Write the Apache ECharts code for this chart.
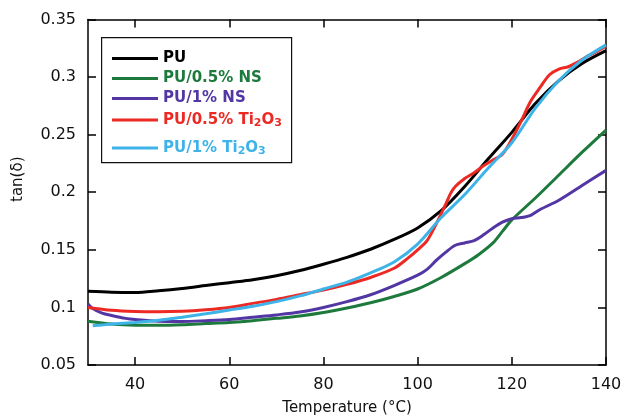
<!DOCTYPE html>
<html><head><meta charset="utf-8">
<script src="https://cdn.jsdelivr.net/npm/echarts@6/dist/echarts.min.js"></script>
<style>html,body{margin:0;padding:0;background:#fff}#c{width:624px;height:417px}</style>
</head><body><div id="c"></div>
<script>
const xTicks = [40,60,80,100,120,140];
const seriesNames = ['PU','PU/0.5% NS','PU/1% NS','PU/0.5% Ti2O3','PU/1% Ti2O3'];
const PU_T = [30,35,40,45,50,55,60,65,70,75,80,85,90,95,100,105,110,115,120,125,130,135,140];
const PU_V = [0.114,0.1132,0.113,0.1145,0.1165,0.119,0.1215,0.124,0.1275,0.132,0.1375,0.1435,0.1505,0.159,0.169,0.184,0.205,0.229,0.252,0.277,0.297,0.312,0.323];
const NS05_T = [30,35,40,45,50,55,60,65,70,75,80,85,90,95,100,105,110,113,116,118,120,125,130,135,140];
const NS05_V = [0.088,0.0855,0.0845,0.0845,0.085,0.086,0.087,0.0885,0.0905,0.0925,0.0955,0.0995,0.104,0.1095,0.116,0.126,0.138,0.146,0.156,0.166,0.176,0.195,0.215,0.235,0.254];
const NS1_T = [30,31,33,35,38,40,45,50,55,60,65,70,75,80,85,90,95,100,102,104,106,108,110,112,114,116,118,120,122,124,126,130,135,140];
const NS1_V = [0.103,0.099,0.095,0.093,0.0905,0.0895,0.088,0.0878,0.0885,0.0895,0.0915,0.0935,0.096,0.1,0.105,0.111,0.119,0.128,0.133,0.141,0.148,0.154,0.156,0.158,0.163,0.169,0.174,0.177,0.178,0.18,0.185,0.193,0.206,0.219];
const TI05_T = [30,35,40,45,50,55,60,65,70,75,80,85,90,95,98,100,102,104,106,107,108,110,112,114,116,118,120,122,124,126,128,130,132,134,136,138,140];
const TI05_V = [0.1,0.0975,0.0965,0.0963,0.0967,0.098,0.1,0.1035,0.107,0.111,0.115,0.12,0.126,0.134,0.143,0.15,0.158,0.173,0.19,0.199,0.205,0.212,0.217,0.223,0.228,0.233,0.246,0.262,0.279,0.291,0.302,0.307,0.309,0.313,0.318,0.322,0.327];
const TI1_T = [31,33,35,40,45,50,55,60,65,70,75,80,85,90,95,100,105,110,115,120,125,130,135,140];
const TI1_V = [0.084,0.0848,0.0856,0.087,0.0888,0.0915,0.0945,0.0977,0.101,0.105,0.11,0.116,0.122,0.13,0.1395,0.155,0.178,0.198,0.221,0.243,0.273,0.297,0.315,0.328];

const colors = ['#000000','#1d7a3c','#5236a4','#ec2a23','#3db3e8'];
const allT = [PU_T,NS05_T,NS1_T,TI05_T,TI1_T];
const allV = [PU_V,NS05_V,NS1_V,TI05_V,TI1_V];
const zip = (t,v)=>t.map((x,i)=>[x,v[i]]);

const FONT = 'DejaVu Sans, Liberation Sans, Arial, sans-serif';
const chart = echarts.init(document.getElementById('c'), null, {renderer:'canvas'});

function legendFmt(name){
  const idx = seriesNames.indexOf(name);
  const k = 'c'+idx;
  if (name.indexOf('Ti2O3')>=0){
    const pre = name.replace('Ti2O3','Ti');
    return '{'+k+'|'+pre+'}{'+k+'s|2}{'+k+'|O}{'+k+'s|3}';
  }
  return '{'+k+'|'+name+'}';
}
const rich = {};
colors.forEach((c,i)=>{
  rich['c'+i] = {color:c, fontWeight:'bold', fontSize:15, fontFamily:FONT, lineHeight:18, verticalAlign:'middle'};
  rich['c'+i+'s'] = {color:c, fontWeight:'bold', fontSize:11, fontFamily:FONT, lineHeight:11, verticalAlign:'bottom', padding:[7,0,0,0]};
});

const legendBase = {
  orient:'vertical', icon:'rect', itemWidth:46, itemHeight:3, itemGap:5,
  formatter: legendFmt, textStyle:{rich:rich, fontFamily:FONT}, selectedMode:false,
  padding:0
};

const axisCommonX = {type:'value', min:30, max:140,
  axisLine:{lineStyle:{color:'#000',width:1.5}}, splitLine:{show:false}};
const axisCommonY = {type:'value', min:0.05, max:0.35, interval:0.05,
  axisLine:{lineStyle:{color:'#000',width:1.5}}, splitLine:{show:false}};

chart.setOption({
  animation:false,
  backgroundColor:'#fff',
  grid:{left:88, right:18, top:19.5, bottom:52, containLabel:false, outerBoundsMode:'none'},
  graphic:[{type:'rect', left:101, top:37, shape:{width:190, height:125},
    style:{fill:'#fff', stroke:'#111', lineWidth:1.2}, z:10}],
  legend:[
    Object.assign({}, legendBase, {left:112, top:51, data:seriesNames.slice(0,4), z:20}),
    Object.assign({}, legendBase, {left:112, top:139, data:seriesNames.slice(4), z:20})
  ],
  xAxis:[
    Object.assign({}, axisCommonX, {position:'bottom', name:'Temperature (°C)', nameLocation:'middle', nameGap:36,
      nameTextStyle:{fontSize:15, color:'#111', fontFamily:FONT},
      axisTick:{inside:true, length:8, customValues:xTicks, lineStyle:{color:'#000',width:1.5}},
      axisLabel:{customValues:xTicks, fontSize:16, color:'#111', fontFamily:FONT, margin:12}}),
    Object.assign({}, axisCommonX, {position:'top',
      axisTick:{inside:true, length:8, customValues:xTicks, lineStyle:{color:'#000',width:1.5}},
      axisLabel:{show:false}})
  ],
  yAxis:[
    Object.assign({}, axisCommonY, {position:'left', name:'tan(δ)', nameLocation:'middle', nameGap:62,
      nameTextStyle:{fontSize:15, color:'#111', fontFamily:FONT, padding:[0,0,0,26]},
      axisTick:{inside:true, length:8, lineStyle:{color:'#000',width:1.5}},
      axisLabel:{fontSize:16, color:'#111', fontFamily:FONT, margin:12}}),
    Object.assign({}, axisCommonY, {position:'right',
      axisTick:{inside:true, length:8, lineStyle:{color:'#000',width:1.5}},
      axisLabel:{show:false}})
  ],
  series: seriesNames.map((n,i)=>({
    name:n, type:'line', data:zip(allT[i],allV[i]), showSymbol:false, symbol:'none',
    smooth:0.3, color:colors[i], lineStyle:{width:3, color:colors[i]}, xAxisIndex:0, yAxisIndex:0,
    z:2+i
  }))
});
</script></body></html>
